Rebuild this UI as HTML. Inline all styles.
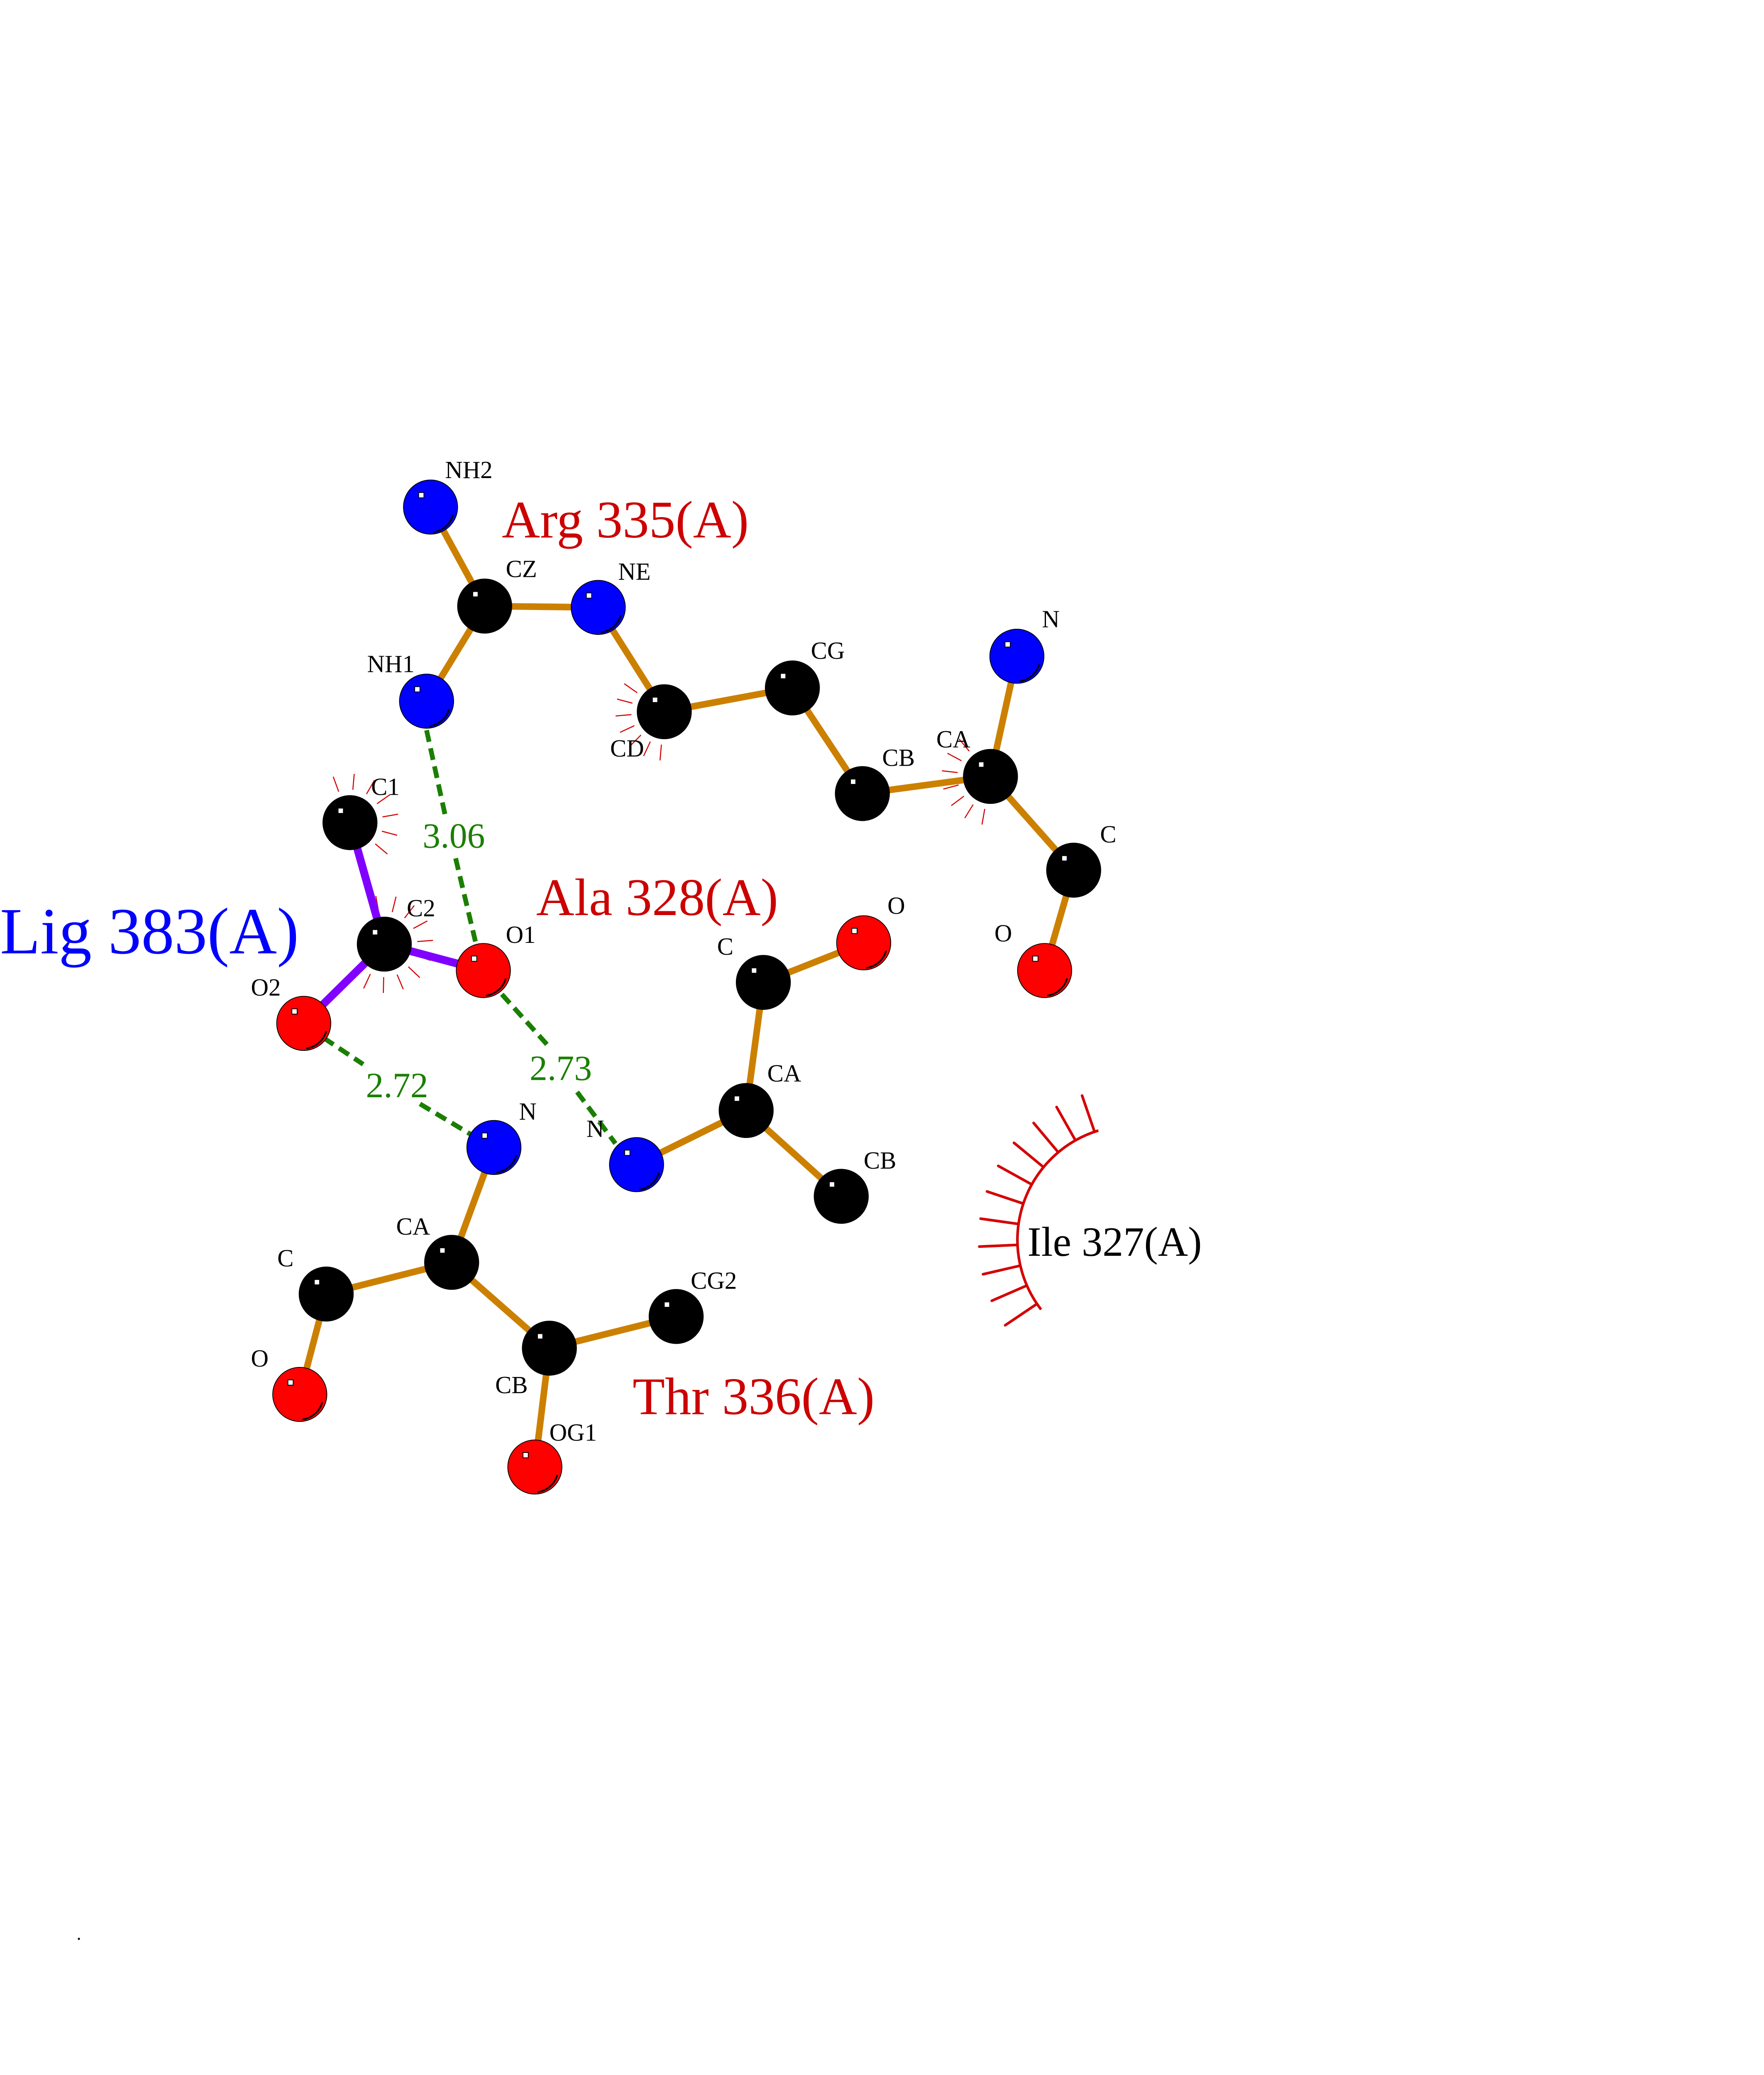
<!DOCTYPE html>
<html><head><meta charset="utf-8">
<style>html,body{margin:0;padding:0;background:#fff;overflow:hidden;}svg{display:block;width:77.2727vh;height:100vh;}</style>
</head><body>
<svg id="s" xmlns="http://www.w3.org/2000/svg" viewBox="0 0 1214.29 1571.43" preserveAspectRatio="none" font-family="Liberation Serif, serif">
<rect width="1214.29" height="1571.43" fill="#fff"/>
<g id="spk" stroke="#d40000" stroke-width="0.8"></g>
<g id="hb" stroke="#1a7f00" stroke-width="3.6" stroke-dasharray="9,5" fill="none">
<line x1="323" y1="553" x2="337" y2="617"/>
<line x1="345" y1="650" x2="360" y2="713"/>
<line x1="380" y1="753" x2="416" y2="793"/>
<line x1="437" y1="827" x2="466" y2="866"/>
<line x1="245" y1="786" x2="275" y2="806"/>
<line x1="318" y1="836" x2="358" y2="860"/>
</g>
<g id="bonds" stroke-linecap="butt"></g>
<g id="atoms"></g>
<g id="ile" stroke="#d40000" stroke-width="2" fill="none"></g>
<g font-size="18.5" fill="#000">
<text x="337" y="362">NH2</text><text x="383" y="437">CZ</text><text x="468" y="439">NE</text>
<text x="278" y="509">NH1</text><text x="614" y="499">CG</text><text x="462" y="573">CD</text>
<text x="668" y="580">CB</text><text x="709" y="566">CA</text><text x="789" y="475">N</text>
<text x="833" y="638">C</text><text x="753" y="713">O</text>
<text x="281" y="602">C1</text><text x="308" y="694">C2</text><text x="383" y="714">O1</text><text x="190" y="754">O2</text>
<text x="543" y="723">C</text><text x="672" y="692">O</text><text x="581" y="819">CA</text><text x="654" y="885">CB</text><text x="444" y="861">N</text>
<text x="393" y="848">N</text><text x="300" y="935">CA</text><text x="210" y="959">C</text><text x="190" y="1035">O</text>
<text x="375" y="1055">CB</text><text x="523" y="976">CG2</text><text x="416" y="1091">OG1</text>
</g>
<g font-size="27" fill="#1a7f00">
<text x="320" y="642">3.06</text><text x="401" y="818">2.73</text><text x="277" y="831">2.72</text>
</g>
<g font-size="40" fill="#cc0000">
<text x="380" y="407">Arg 335(A)</text>
<text x="406" y="693">Ala 328(A)</text>
<text x="479" y="1071">Thr 336(A)</text>
</g>
<text x="0" y="722" font-size="50" fill="#0000ff">Lig 383(A)</text>
<text x="778" y="951" font-size="31.5" fill="#000">Ile 327(A)</text>
<text x="58" y="1469" font-size="14" fill="#000">.</text>
</svg>
<script>
var NS="http://www.w3.org/2000/svg";
function el(p,t,a){var e=document.createElementNS(NS,t);for(var k in a)e.setAttribute(k,a[k]);p.appendChild(e);return e;}
var A={
NH2:[326,384,'b'],CZ:[367,459,'k'],NE:[453,460,'b'],NH1:[323,531,'b'],CD:[503,539,'k'],CG:[600,521,'k'],
CB:[653,601,'k'],CA:[750,588,'k'],N:[770,497,'b'],C:[813,659,'k'],O:[791,735,'r'],
C1:[265,623,'k'],C2:[291,715,'k'],O1:[366,735,'r'],O2:[230,775,'r'],
aC:[578,744,'k'],aO:[654,714,'r'],aCA:[565,841,'k'],aN:[482,882,'b'],aCB:[637,906,'k'],
tN:[374,869,'b'],tCA:[342,956,'k'],tC:[247,980,'k'],tO:[227,1056,'r'],tCB:[416,1021,'k'],tCG2:[512,997,'k'],tOG1:[405,1111,'r']};
var orange=[['NH2','CZ'],['CZ','NE'],['CZ','NH1'],['NE','CD'],['CD','CG'],['CG','CB'],['CB','CA'],['CA','N'],['CA','C'],['C','O'],
['aC','aO'],['aC','aCA'],['aCA','aN'],['aCA','aCB'],['tN','tCA'],['tCA','tC'],['tC','tO'],['tCA','tCB'],['tCB','tCG2'],['tCB','tOG1']];
var purple=[['C1','C2'],['C2','O1'],['C2','O2']];
var B=document.getElementById('bonds');
orange.forEach(function(p){var a=A[p[0]],b=A[p[1]];el(B,'line',{x1:a[0],y1:a[1],x2:b[0],y2:b[1],stroke:'#cc8000','stroke-width':5});});
purple.forEach(function(p){var a=A[p[0]],b=A[p[1]];el(B,'line',{x1:a[0],y1:a[1],x2:b[0],y2:b[1],stroke:'#8000ff','stroke-width':6});});
var G=document.getElementById('atoms');var col={b:'#0000ff',k:'#000',r:'#ff0000'};
for(var k in A){var a=A[k];
el(G,'circle',{cx:a[0],cy:a[1],r:20.5,fill:col[a[2]],stroke:'#000','stroke-width':0.6});
el(G,'path',{d:'M'+(a[0]+17)+' '+(a[1]+6)+' A18 18 0 0 1 '+(a[0]+2)+' '+(a[1]+19),stroke:'#000','stroke-width':1.2,fill:'none'});
el(G,'rect',{x:a[0]-9,y:a[1]-11,width:4,height:4,fill:'#fff',stroke:'#000','stroke-width':0.6});}
var S=document.getElementById('spk');
function spikes(c,a0,a1,n,r0,r1){var a=A[c];for(var i=0;i<n;i++){var t=(a0+(a1-a0)*i/(n-1))*Math.PI/180;
el(S,'line',{x1:a[0]+r0*Math.cos(t),y1:a[1]+r0*Math.sin(t),x2:a[0]+r1*Math.cos(t),y2:a[1]+r1*Math.sin(t)});}}
spikes('C1',-110,40,7,25,37);spikes('C2',-100,115,10,25,37);spikes('CD',95,215,7,25,37);spikes('CA',100,230,7,25,37);
var I=document.getElementById('ile');var cx=857,cy=939,r=86.6;
el(I,'path',{d:'M'+(cx+r*Math.cos(142.5*Math.PI/180))+' '+(cy+r*Math.sin(142.5*Math.PI/180))+' A'+r+' '+r+' 0 0 1 '+(cx+r*Math.cos(253*Math.PI/180))+' '+(cy+r*Math.sin(253*Math.PI/180))});
for(var i=0;i<11;i++){var t=(146+i*10.5)*Math.PI/180;
el(I,'line',{x1:cx+r*Math.cos(t),y1:cy+r*Math.sin(t),x2:cx+(r+29)*Math.cos(t),y2:cy+(r+29)*Math.sin(t),'stroke-linecap':'round'});}
</script>
</body></html>
